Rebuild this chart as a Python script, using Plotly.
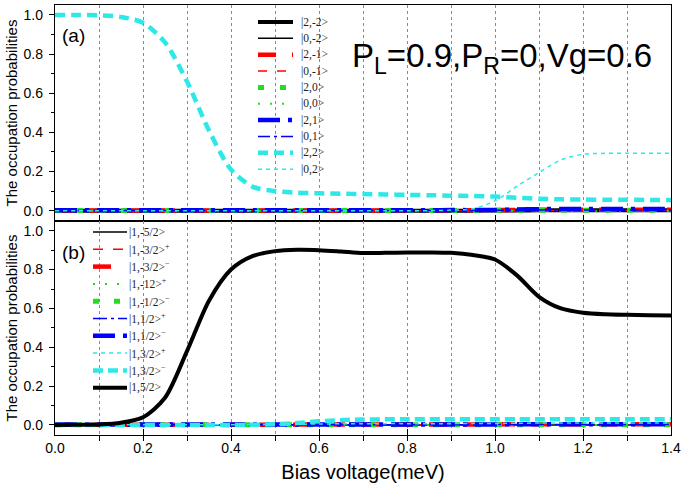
import plotly.graph_objects as go

# ---------------- data ----------------
bias = [0.00, 0.05, 0.10, 0.15, 0.20, 0.25, 0.30, 0.35, 0.40, 0.45,
        0.50, 0.55, 0.60, 0.65, 0.70, 0.75, 0.80, 0.85, 0.90, 0.95,
        1.00, 1.05, 1.10, 1.15, 1.20, 1.25, 1.30, 1.35, 1.40]

# panel (a)
a_2m2 = [0, 0, 0, 0, 0, 0, 0, 0, 0, 0, 0, 0, 0, 0, 0, 0, 0, 0, 0, 0,
         0.001, 0.001, 0.002, 0.002, 0.002, 0.002, 0.002, 0.002, 0.002]
a_0m2 = [0, 0, 0, 0, 0, 0, 0, 0, 0, 0, 0, 0, 0, 0, 0, 0, 0, 0, 0, 0,
         0, 0, 0, 0, 0, 0, 0, 0, 0]
a_2m1 = [0.001, 0.001, 0.001, 0.001, 0.001, 0.001, 0.001, 0.001, 0.001, 0.001,
         0.001, 0.001, 0.001, 0.001, 0.001, 0.001, 0.001, 0.001, 0.002, 0.002,
         0.003, 0.004, 0.005, 0.005, 0.005, 0.005, 0.005, 0.005, 0.005]
a_0m1 = [0, 0, 0, 0, 0, 0, 0, 0, 0, 0, 0, 0, 0, 0, 0, 0, 0, 0, 0, 0,
         0, 0, 0.001, 0.001, 0.001, 0.001, 0.001, 0.001, 0.001]
a_20 = [0.001, 0.001, 0.001, 0.001, 0.001, 0.001, 0.001, 0.001, 0.001, 0.001,
        0.001, 0.001, 0.001, 0.001, 0.001, 0.001, 0.001, 0.001, 0.001, 0.001,
        0.002, 0.002, 0.002, 0.002, 0.002, 0.002, 0.002, 0.002, 0.002]
a_00 = [0, 0, 0, 0, 0, 0, 0, 0, 0, 0, 0, 0, 0, 0, 0, 0, 0, 0, 0, 0,
        0, 0, 0, 0, 0, 0, 0, 0, 0]
a_21 = [0.002, 0.002, 0.002, 0.002, 0.002, 0.002, 0.002, 0.002, 0.002, 0.002,
        0.002, 0.002, 0.002, 0.002, 0.002, 0.002, 0.002, 0.002, 0.003, 0.003,
        0.004, 0.006, 0.008, 0.009, 0.009, 0.009, 0.009, 0.009, 0.009]
a_01 = [0.001, 0.001, 0.001, 0.001, 0.001, 0.001, 0.001, 0.001, 0.001, 0.001,
        0.001, 0.001, 0.001, 0.001, 0.001, 0.001, 0.001, 0.001, 0.001, 0.001,
        0.002, 0.002, 0.003, 0.003, 0.003, 0.003, 0.003, 0.003, 0.003]
a_22 = [1.000, 1.000, 0.998, 0.990, 0.960, 0.860, 0.660, 0.410, 0.210, 0.122,
        0.100, 0.092, 0.089, 0.087, 0.085, 0.083, 0.081, 0.079, 0.077, 0.075,
        0.072, 0.066, 0.061, 0.058, 0.057, 0.056, 0.056, 0.055, 0.055]
a_02 = [0, 0, 0, 0, 0, 0, 0, 0, 0, 0, 0, 0, 0, 0, 0, 0, 0, 0,
        0.003, 0.010, 0.050, 0.125, 0.195, 0.260, 0.288, 0.293, 0.294, 0.294, 0.294]

# panel (b)
b_m52 = [0, 0, 0, 0, 0, 0, 0, 0, 0, 0, 0, 0, 0, 0, 0, 0, 0, 0, 0, 0,
         0, 0, 0, 0, 0, 0, 0, 0, 0]
b_m32p = [0, 0, 0, 0, 0, 0, 0, 0, 0, 0, 0.001, 0.001, 0.001, 0.001, 0.001, 0.001,
          0.001, 0.001, 0.001, 0.001, 0.001, 0.001, 0.001, 0.001, 0.001, 0.001,
          0.001, 0.001, 0.001]
b_m32m = [0.001, 0.001, 0.001, 0.001, 0.001, 0.001, 0.001, 0.001, 0.001, 0.001,
          0.001, 0.002, 0.002, 0.002, 0.002, 0.002, 0.002, 0.002, 0.002, 0.003,
          0.003, 0.004, 0.004, 0.004, 0.004, 0.004, 0.004, 0.004, 0.004]
b_m12p = [0, 0, 0, 0, 0, 0, 0, 0, 0, 0, 0, 0, 0, 0, 0, 0, 0, 0, 0, 0,
          0, 0, 0, 0, 0, 0, 0, 0, 0]
b_m12m = [0.001, 0.001, 0.001, 0.001, 0.001, 0.001, 0.001, 0.001, 0.001, 0.001,
          0.001, 0.001, 0.001, 0.001, 0.001, 0.001, 0.001, 0.001, 0.001, 0.001,
          0.001, 0.001, 0.001, 0.001, 0.001, 0.001, 0.001, 0.001, 0.001]
b_12p = [0.001, 0.001, 0.001, 0.001, 0.001, 0.001, 0.001, 0.001, 0.001, 0.001,
         0.001, 0.001, 0.001, 0.001, 0.001, 0.001, 0.001, 0.001, 0.001, 0.001,
         0.002, 0.002, 0.002, 0.002, 0.002, 0.002, 0.002, 0.002, 0.002]
b_12m = [0.002, 0.002, 0.002, 0.002, 0.002, 0.002, 0.002, 0.002, 0.002, 0.002,
         0.002, 0.002, 0.002, 0.002, 0.002, 0.002, 0.002, 0.002, 0.002, 0.003,
         0.003, 0.004, 0.004, 0.004, 0.004, 0.004, 0.004, 0.004, 0.004]
b_32p = [0.001, 0.001, 0.001, 0.001, 0.001, 0.001, 0.001, 0.001, 0.001, 0.002,
         0.003, 0.004, 0.005, 0.006, 0.006, 0.007, 0.007, 0.007, 0.007, 0.008,
         0.008, 0.009, 0.010, 0.010, 0.010, 0.010, 0.010, 0.010, 0.010]
b_32m = [0, 0, 0, 0, 0, 0, 0, 0, 0, 0.001,
         0.004, 0.010, 0.019, 0.025, 0.028, 0.029, 0.030, 0.030, 0.030, 0.030,
         0.030, 0.030, 0.030, 0.030, 0.030, 0.030, 0.030, 0.030, 0.030]
b_52 = [0.000, 0.001, 0.003, 0.012, 0.040, 0.140, 0.380, 0.640, 0.800, 0.870,
        0.895, 0.902, 0.900, 0.893, 0.885, 0.886, 0.888, 0.888, 0.886, 0.875,
        0.852, 0.770, 0.660, 0.600, 0.578, 0.570, 0.567, 0.565, 0.564]

labels_a = ["|2,-2>", "|0,-2>", "|2,-1>", "|0,-1>", "|2,0>",
            "|0,0>", "|2,1>", "|0,1>", "|2,2>", "|0,2>"]
labels_b = ["|1,-5/2>", "|1,-3/2><sup>+</sup>", "|1,-3/2><sup>\u2212</sup>",
            "|1,-12><sup>+</sup>", "|1,-1/2><sup>\u2212</sup>", "|1,1/2><sup>+</sup>",
            "|1,1/2><sup>\u2212</sup>", "|1,3/2><sup>+</sup>", "|1,3/2><sup>\u2212</sup>",
            "|1,5/2>"]
values_a = [a_2m2, a_0m2, a_2m1, a_0m1, a_20, a_00, a_21, a_01, a_22, a_02]
values_b = [b_m52, b_m32p, b_m32m, b_m12p, b_m12m, b_12p, b_12m, b_32p, b_32m, b_52]

BLACK, RED, GREEN, BLUE, CYAN = "#000000", "#FF0000", "#22DD22", "#0000FF", "#2EE8E8"
styles_a = [
    (BLACK, 4.0, "solid"),
    (BLACK, 1.5, "solid"),
    (RED, 4.5, "18px,16px"),
    (RED, 1.5, "9px,10px"),
    (GREEN, 5.0, "6px,16px"),
    (GREEN, 2.0, "2px,10px"),
    (BLUE, 4.5, "22px,8px,4px,8px"),
    (BLUE, 1.5, "12px,4px,3px,4px"),
    (CYAN, 4.5, "10px,6px"),
    (CYAN, 1.5, "4px,4px"),
]
styles_b = [
    (BLACK, 1.5, "solid"),
    (RED, 1.5, "10px,10px"),
    (RED, 4.5, "18px,16px"),
    (GREEN, 2.0, "2px,10px"),
    (GREEN, 5.0, "6px,15px"),
    (BLUE, 1.5, "14px,4px,3px,4px"),
    (BLUE, 4.5, "22px,8px,4px,8px"),
    (CYAN, 1.5, "4px,4px"),
    (CYAN, 4.5, "10px,5px"),
    (BLACK, 4.0, "solid"),
]

# ---------------- figure ----------------
W, H = 685, 497
ML, MR, MT, MB = 55, 14, 5, 62
PW, PH = W - ML - MR, H - MT - MB
SPLIT = (435 - 221) / PH


def px(xp):
    return (xp - ML) / PW


def py(yp):
    return (H - MB - yp) / PH


fig = go.Figure()
for name, vals, (col, w, d) in zip(labels_a, values_a, styles_a):
    fig.add_trace(go.Scatter(x=bias, y=vals, mode="lines", name=name, showlegend=False,
                             line=dict(color=col, width=w, dash=d, shape="spline", smoothing=0.8),
                             xaxis="x", yaxis="y"))
for name, vals, (col, w, d) in zip(labels_b, values_b, styles_b):
    fig.add_trace(go.Scatter(x=bias, y=vals, mode="lines", name=name, showlegend=False,
                             line=dict(color=col, width=w, dash=d, shape="spline", smoothing=0.8),
                             xaxis="x2", yaxis="y2"))

shapes, annotations = [], []


def add_legend(labels, styles, x0, x1, xt, y0, pitch):
    for i, (lab, (col, w, d)) in enumerate(zip(labels, styles)):
        yy = y0 + pitch * i
        shapes.append(dict(type="line", xref="paper", yref="paper",
                           x0=px(x0), x1=px(x1), y0=py(yy), y1=py(yy),
                           line=dict(color=col, width=w, dash=d)))
        annotations.append(dict(text=lab, xref="paper", yref="paper", x=px(xt), y=py(yy),
                                xanchor="left", yanchor="middle", showarrow=False,
                                font=dict(family="Liberation Serif, Times New Roman", size=11.5,
                                          color="#222222")))


add_legend(labels_a, styles_a, 258, 293, 299, 22, 16.35)
add_legend(labels_b, styles_b, 93, 127, 127, 232, 17.3)

TXT = "Arial, Liberation Sans"
annotations.append(dict(text="(a)", xref="paper", yref="paper", x=px(60), y=py(36),
                        xanchor="left", yanchor="middle", showarrow=False,
                        font=dict(family=TXT, size=19, color="black")))
annotations.append(dict(text="(b)", xref="paper", yref="paper", x=px(60), y=py(252),
                        xanchor="left", yanchor="middle", showarrow=False,
                        font=dict(family=TXT, size=19, color="black")))
annotations.append(dict(text="P<sub>L</sub>=0.9,P<sub>R</sub>=0,Vg=0.6", xref="paper", yref="paper",
                        x=px(350), y=py(58), xanchor="left", yanchor="middle", showarrow=False,
                        font=dict(family=TXT, size=33, color="black")))

GRIDC = "#8a8a8a"
grid = dict(showgrid=True, gridcolor=GRIDC, gridwidth=1, griddash="dot")
xcommon = dict(range=[0, 1.4], dtick=0.2, tick0=0, tickformat=".1f",
               showline=True, mirror=True, linecolor="black", linewidth=1.3,
               zeroline=False, tickcolor="black", ticklen=6, tickwidth=1,
               tickfont=dict(family=TXT, size=14, color="black"), **grid)
ycommon = dict(dtick=0.2, tick0=0, tickformat=".1f", showgrid=False, zeroline=False,
               showline=True, mirror=True, linecolor="black", linewidth=1.3,
               ticks="outside", ticklen=5, tickwidth=1, tickcolor="black",
               ticklabelstandoff=3,
               tickfont=dict(family=TXT, size=14, color="black"),
               minor=dict(dtick=0.1, ticks="outside", ticklen=3, tickcolor="black"),
               title=dict(text="The occupation probabilities", standoff=2,
                          font=dict(family=TXT, size=15, color="black")))

fig.update_layout(
    width=W, height=H,
    margin=dict(l=ML, r=MR, t=MT, b=MB),
    paper_bgcolor="white", plot_bgcolor="white",
    showlegend=False,
    xaxis=dict(anchor="y", domain=[0, 1], showticklabels=False, ticks="inside", matches="x2",
               minor=dict(dtick=0.1, ticks="inside", ticklen=6, tickcolor="black",
                          showgrid=True, gridcolor=GRIDC, griddash="dot"),
               **xcommon),
    xaxis2=dict(anchor="y2", domain=[0, 1], ticks="inside",
                minor=dict(dtick=0.1, ticks="outside", ticklen=5, tickcolor="black",
                           showgrid=True, gridcolor=GRIDC, griddash="dot"),
                title=dict(text="Bias voltage(meV)", standoff=10,
                           font=dict(family=TXT, size=20, color="black")),
                **xcommon),
    yaxis=dict(anchor="x", domain=[SPLIT, 1], range=[-0.0526, 1.051], **ycommon),
    yaxis2=dict(anchor="x2", domain=[0, SPLIT], range=[-0.0515, 1.05], **ycommon),
    shapes=shapes,
    annotations=annotations,
)

fig.write_html("out.html", config={"displayModeBar": False},
               post_script="document.body.style.margin='0';document.body.style.overflow='hidden';")
